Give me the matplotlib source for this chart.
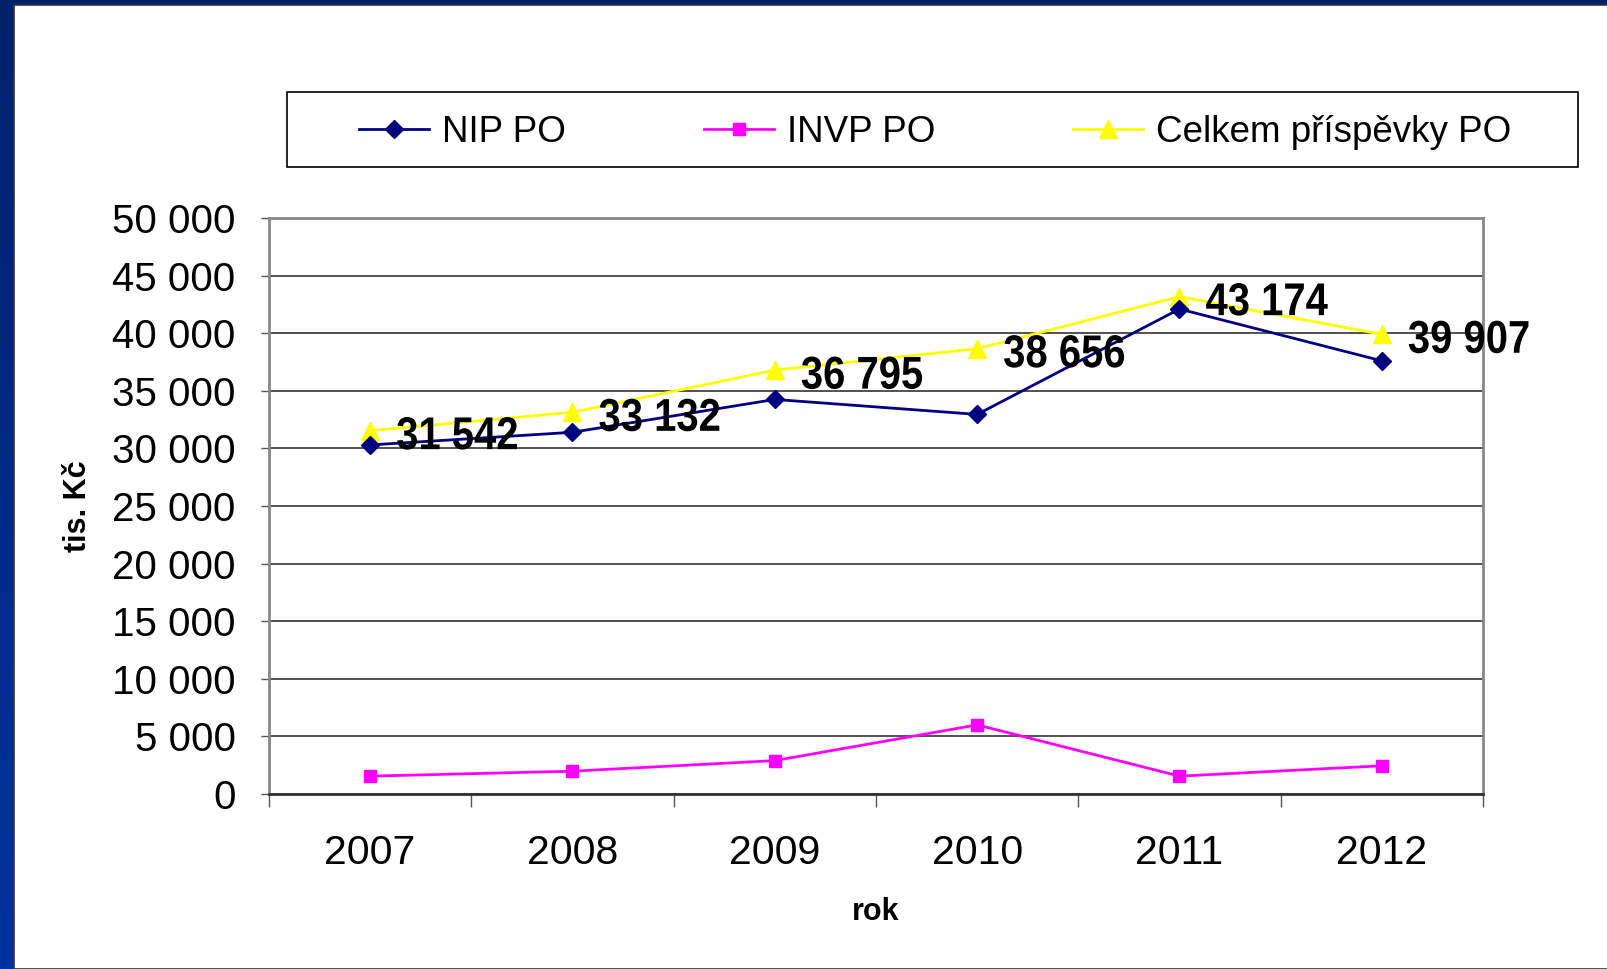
import numpy as np
import matplotlib.pyplot as plt
import matplotlib.transforms as mtransforms
from matplotlib.patches import Rectangle, PathPatch
from matplotlib.textpath import TextPath
from matplotlib.font_manager import FontProperties
from matplotlib.ticker import FuncFormatter, FixedLocator

plt.rcParams['font.family'] = ['Liberation Sans', 'DejaVu Sans']

years = ['2007', '2008', '2009', '2010', '2011', '2012']
nip_po = [30300, 31400, 34250, 32950, 42100, 37600]
invp_po = [1550, 1980, 2900, 6000, 1550, 2450]
celkem_po = [31542, 33132, 36795, 38656, 43174, 39907]

W, H = 1608, 969
fig = plt.figure(figsize=(W / 100, H / 100), dpi=100)

# blue slide frame on the left/top
bg = fig.add_axes([0, 0, 1, 1], zorder=-10)
grad = np.linspace(0, 1, 256).reshape(-1, 1)
bg.imshow(np.dstack([grad * 0.0, 0.13 + grad * 0.07, 0.42 + grad * 0.2]),
          aspect='auto', extent=[0, 1, 0, 1], origin='upper')
bg.add_patch(Rectangle((14 / W, 0), 1, 1 - 5 / H, facecolor='white',
                       edgecolor='#333333', linewidth=1.2))
# legend box
bg.add_patch(Rectangle((287 / W, 1 - 167 / H), (1578 - 287) / W, 75 / H,
                       facecolor='white', edgecolor='black', linewidth=1.2))
bg.set_xlim(0, 1)
bg.set_ylim(0, 1)
bg.axis('off')

ax = fig.add_axes([269 / W, 1 - 794 / H, (1483 - 269) / W, (794 - 218) / H])
x = np.arange(len(years))

ax.plot(x, nip_po, color='#000080', marker='D', markersize=9, linewidth=2,
        label='NIP PO', zorder=4)
ax.plot(x, invp_po, color='#FF00FF', marker='s', markersize=9, linewidth=2,
        label='INVP PO', zorder=4)
ax.plot(x, celkem_po, color='#FFFF00', marker='^', markersize=13, linewidth=2,
        label='Celkem příspěvky PO', zorder=3)

# narrow bold data labels (text squeezed horizontally)
fp = FontProperties(family='Liberation Sans', weight='bold')
for xi, v in zip(x, celkem_po):
    tp = TextPath((0, 0), f'{v:,}'.replace(',', ' '), size=46, prop=fp)
    tr = (mtransforms.Affine2D().scale(0.87, 1.0).translate(26, -18.5)
          + mtransforms.ScaledTranslation(xi, v, ax.transData))
    ax.add_patch(PathPatch(tp, transform=tr, facecolor='black', edgecolor='none',
                           zorder=5, clip_on=False))

ax.set_xlim(-0.5, 5.5)
ax.set_ylim(0, 50000)
ax.set_yticks(range(0, 50001, 5000))
ax.yaxis.set_major_formatter(FuncFormatter(lambda v, p: f'{int(v):,}'.replace(',', ' ')))
ax.yaxis.grid(True, color='#333333', linewidth=1.2)
ax.set_axisbelow(True)

ax.set_xticks(x)
ax.set_xticklabels(years)
ax.xaxis.set_minor_locator(FixedLocator(np.arange(-0.5, 6, 1)))
ax.tick_params(axis='x', which='major', length=0, pad=29, labelsize=29.5)
ax.tick_params(axis='x', which='minor', length=9, width=1, color='#555555')
ax.tick_params(axis='y', length=6, width=1, color='#555555', pad=18, labelsize=29)

for s in ['top', 'right', 'left']:
    ax.spines[s].set_color('#888888')
    ax.spines[s].set_linewidth(2)
ax.spines['bottom'].set_color('#333333')
ax.spines['bottom'].set_linewidth(2)

ax.set_xlabel('rok', fontsize=22, fontweight='bold', labelpad=18)
ax.set_ylabel('tis. Kč', fontsize=22, fontweight='bold', labelpad=14)

leg = fig.legend(loc='center left', bbox_to_anchor=(359 / W, 1 - 132 / H),
                 ncol=3, fontsize=26.5, frameon=False,
                 handlelength=1.9, handletextpad=0.35,
                 columnspacing=3.75, borderpad=0, borderaxespad=0)

fig.savefig('out.png', dpi=100)
